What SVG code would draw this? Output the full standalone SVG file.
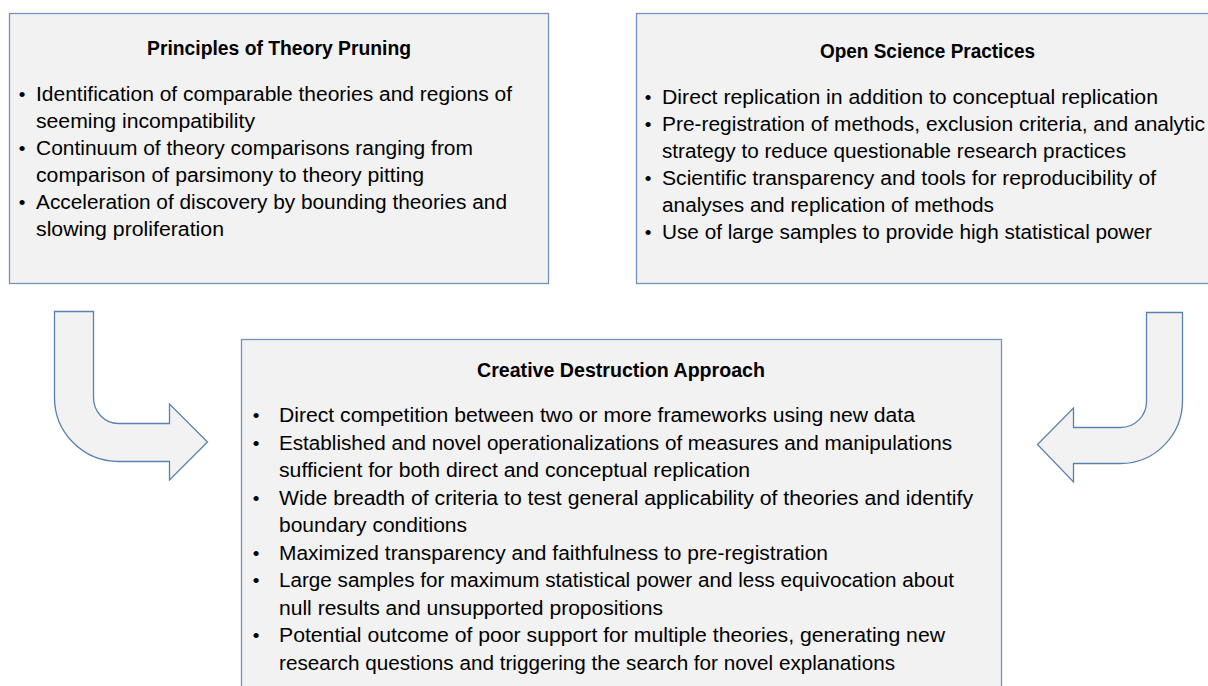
<svg xmlns="http://www.w3.org/2000/svg" width="1208" height="686" viewBox="0 0 1208 686">
<style>
.box{fill:#f2f2f2;stroke:#7592bb;stroke-width:1.3}
.arr{fill:#f2f2f2;stroke:#5a82b0;stroke-width:1.3}
.t{font-family:"Liberation Sans",Arial,sans-serif;font-size:20px;fill:#000}
.h{font-family:"Liberation Sans",Arial,sans-serif;font-size:19.5px;font-weight:bold;fill:#000}
.bl{font-family:"Liberation Sans",Arial,sans-serif;font-size:19px;fill:#000;text-anchor:middle}
</style>
<rect width="1208" height="686" fill="#ffffff"/>
<g id="principles">
<rect class="box" x="9.5" y="13.5" width="539" height="270"/>
<text class="h" x="147" y="55" textLength="264" lengthAdjust="spacingAndGlyphs">Principles of Theory Pruning</text>
<text class="bl" x="22" y="101">•</text>
<text class="t" x="36" y="101" textLength="476" lengthAdjust="spacingAndGlyphs">Identification of comparable theories and regions of</text>
<text class="t" x="36" y="128" textLength="219" lengthAdjust="spacingAndGlyphs">seeming incompatibility</text>
<text class="bl" x="22" y="155">•</text>
<text class="t" x="36" y="155" textLength="437" lengthAdjust="spacingAndGlyphs">Continuum of theory comparisons ranging from</text>
<text class="t" x="36" y="182" textLength="388" lengthAdjust="spacingAndGlyphs">comparison of parsimony to theory pitting</text>
<text class="bl" x="22" y="209">•</text>
<text class="t" x="36" y="209" textLength="471" lengthAdjust="spacingAndGlyphs">Acceleration of discovery by bounding theories and</text>
<text class="t" x="36" y="236" textLength="188" lengthAdjust="spacingAndGlyphs">slowing proliferation</text>
</g>
<g id="open-science">
<rect class="box" x="636.5" y="13.5" width="600" height="270"/>
<text class="h" x="820" y="58" textLength="215" lengthAdjust="spacingAndGlyphs">Open Science Practices</text>
<text class="bl" x="648" y="104">•</text>
<text class="t" x="662" y="104" textLength="496" lengthAdjust="spacingAndGlyphs">Direct replication in addition to conceptual replication</text>
<text class="bl" x="648" y="131">•</text>
<text class="t" x="662" y="131" textLength="543" lengthAdjust="spacingAndGlyphs">Pre-registration of methods, exclusion criteria, and analytic</text>
<text class="t" x="662" y="158" textLength="464" lengthAdjust="spacingAndGlyphs">strategy to reduce questionable research practices</text>
<text class="bl" x="648" y="185">•</text>
<text class="t" x="662" y="185" textLength="494" lengthAdjust="spacingAndGlyphs">Scientific transparency and tools for reproducibility of</text>
<text class="t" x="662" y="212" textLength="332" lengthAdjust="spacingAndGlyphs">analyses and replication of methods</text>
<text class="bl" x="648" y="239">•</text>
<text class="t" x="662" y="239" textLength="490" lengthAdjust="spacingAndGlyphs">Use of large samples to provide high statistical power</text>
</g>
<g id="creative-destruction">
<rect class="box" x="241.5" y="339.5" width="760" height="400"/>
<text class="h" x="477" y="377" textLength="288" lengthAdjust="spacingAndGlyphs">Creative Destruction Approach</text>
<text class="bl" x="256" y="422">•</text>
<text class="t" x="279" y="422" textLength="636" lengthAdjust="spacingAndGlyphs">Direct competition between two or more frameworks using new data</text>
<text class="bl" x="256" y="449.5">•</text>
<text class="t" x="279" y="449.5" textLength="673" lengthAdjust="spacingAndGlyphs">Established and novel operationalizations of measures and manipulations</text>
<text class="t" x="279" y="477" textLength="471" lengthAdjust="spacingAndGlyphs">sufficient for both direct and conceptual replication</text>
<text class="bl" x="256" y="504.5">•</text>
<text class="t" x="279" y="504.5" textLength="694" lengthAdjust="spacingAndGlyphs">Wide breadth of criteria to test general applicability of theories and identify</text>
<text class="t" x="279" y="532" textLength="188" lengthAdjust="spacingAndGlyphs">boundary conditions</text>
<text class="bl" x="256" y="559.5">•</text>
<text class="t" x="279" y="559.5" textLength="549" lengthAdjust="spacingAndGlyphs">Maximized transparency and faithfulness to pre-registration</text>
<text class="bl" x="256" y="587">•</text>
<text class="t" x="279" y="587" textLength="675" lengthAdjust="spacingAndGlyphs">Large samples for maximum statistical power and less equivocation about</text>
<text class="t" x="279" y="614.5" textLength="384" lengthAdjust="spacingAndGlyphs">null results and unsupported propositions</text>
<text class="bl" x="256" y="642">•</text>
<text class="t" x="279" y="642" textLength="666" lengthAdjust="spacingAndGlyphs">Potential outcome of poor support for multiple theories, generating new</text>
<text class="t" x="279" y="669.5" textLength="616" lengthAdjust="spacingAndGlyphs">research questions and triggering the search for novel explanations</text>
</g>
<g id="connectors">
<path class="arr" d="M54.5,311.5 H93.5 V397 A25 26 0 0 0 118.5,423.5 H169.5 V404 L207.5,442 L169.5,480 V461.5 H118.5 A64 64 0 0 1 54.5,397 Z"/>
<path class="arr" d="M1146.5,312.5 H1182.5 V400 A62 63 0 0 1 1120.5,463.5 H1073.5 V482 L1037.5,444.5 L1073.5,408 V427.5 H1120.5 A26 26 0 0 0 1146.5,401.5 Z"/>
</g>
</svg>
